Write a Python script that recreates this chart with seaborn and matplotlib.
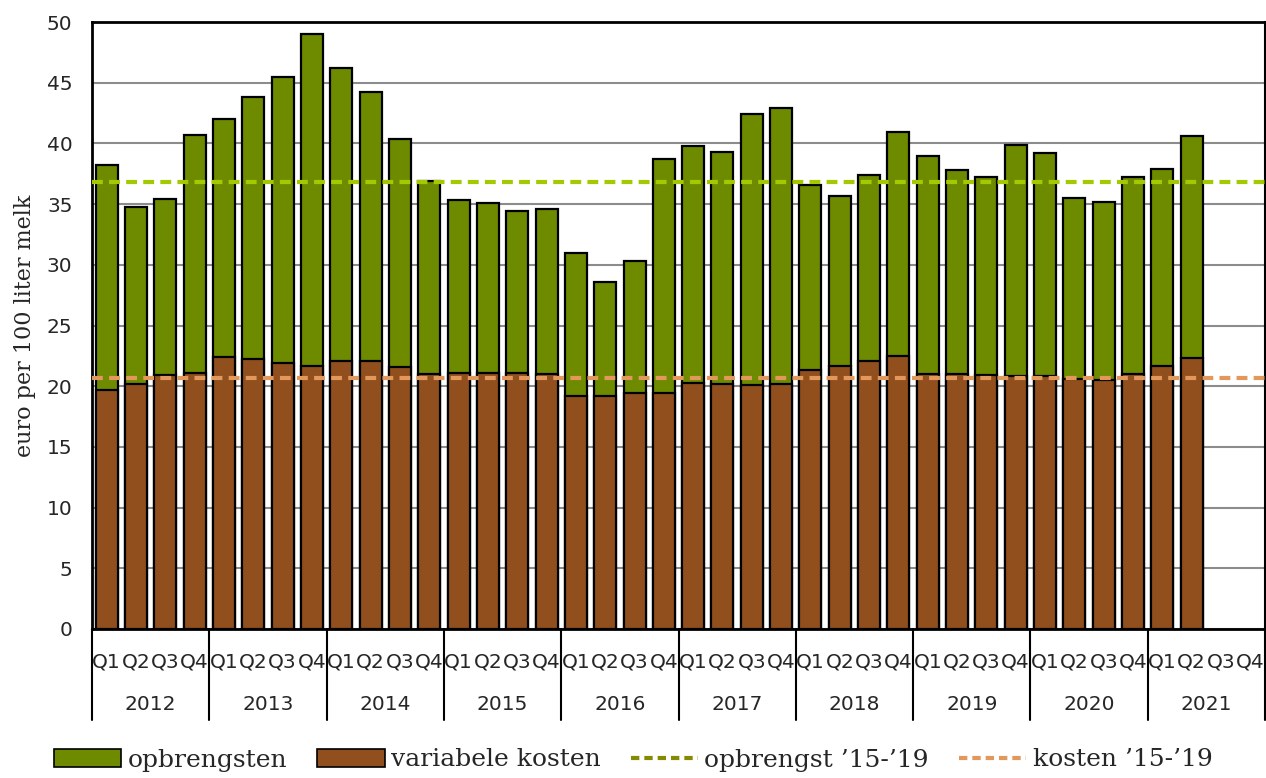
import numpy as np
import pandas as pd
import matplotlib
matplotlib.use("Agg")
import matplotlib.pyplot as plt
import seaborn as sns
from matplotlib.patches import Patch
from matplotlib.lines import Line2D

years = ["2012", "2013", "2014", "2015", "2016", "2017", "2018", "2019", "2020", "2021"]
quarters = ["Q1", "Q2", "Q3", "Q4"]

opbrengsten = [38.2, 34.8, 35.4, 40.7,
               42.0, 43.8, 45.5, 49.0,
               46.2, 44.2, 40.4, 36.9,
               35.3, 35.1, 34.4, 34.6,
               31.0, 28.6, 30.3, 38.7,
               39.8, 39.3, 42.4, 42.9,
               36.6, 35.7, 37.4, 40.9,
               39.0, 37.8, 37.2, 39.9,
               39.2, 35.5, 35.2, 37.2,
               37.9, 40.6]
variabele_kosten = [19.7, 20.2, 20.9, 21.1,
                    22.4, 22.2, 21.9, 21.7,
                    22.1, 22.1, 21.6, 21.0,
                    21.1, 21.1, 21.1, 21.0,
                    19.2, 19.2, 19.4, 19.4,
                    20.3, 20.2, 20.1, 20.2,
                    21.3, 21.7, 22.1, 22.5,
                    21.0, 21.0, 20.9, 20.8,
                    20.8, 20.6, 20.5, 21.0,
                    21.7, 22.3]
gem_opbrengst_15_19 = 36.8
gem_kosten_15_19 = 20.7

periods = [f"{y} {q}" for y in years for q in quarters]
df = pd.DataFrame({
    "periode": periods[:len(opbrengsten)],
    "opbrengsten": opbrengsten,
    "kosten": variabele_kosten,
})

GREEN = "#6e8b00"
BROWN = "#914f1e"
LIME = "#a3c900"
OLIVE = "#858a00"
ORANGE = "#e2975b"

sns.set_theme(style="white")
plt.rcParams["font.family"] = ["DejaVu Sans"]

fig = plt.figure(figsize=(12.66, 7.78), dpi=100)
ax = fig.add_axes([92/1266, 1-629/778, (1265-92)/1266, (629-22)/778])

ax.set_axisbelow(True)
ax.yaxis.grid(True, color="#8c8c8c", linewidth=1.5)

sns.barplot(data=df, x="periode", y="opbrengsten", order=periods, color=GREEN,
            edgecolor="black", linewidth=1.6, width=0.75, saturation=1, ax=ax)
sns.barplot(data=df, x="periode", y="kosten", order=periods, color=BROWN,
            edgecolor="black", linewidth=1.6, width=0.75, saturation=1, ax=ax)

ax.axhline(gem_opbrengst_15_19, color=LIME, linestyle=(0, (2.6, 1.5)), linewidth=3, zorder=5)
ax.axhline(gem_kosten_15_19, color=ORANGE, linestyle=(0, (2.6, 1.5)), linewidth=3, zorder=5)

ax.set_xlim(-0.5, len(periods) - 0.5)
ax.set_ylim(0, 50)
ax.set_yticks(np.arange(0, 51, 5))
ax.tick_params(axis="y", length=0, pad=14, labelsize=14.5)
ax.set_xticks(range(len(periods)))
ax.set_xticklabels([p.split()[1] for p in periods], fontsize=14.5)
ax.tick_params(axis="x", length=0, pad=17)
ax.set_xlabel("")
ax.set_ylabel("euro per 100 liter melk", family="DejaVu Serif", fontsize=16, labelpad=8)

for s in ["top", "left", "right", "bottom"]:
    ax.spines[s].set_visible(True)
    ax.spines[s].set_color("black")
    ax.spines[s].set_linewidth(2)
ax.spines["right"].set_linewidth(1.5)

trans = ax.get_xaxis_transform()
for i, y in enumerate(years):
    ax.text(i * 4 + 1.5, -0.125, y, transform=trans, ha="center", va="center", fontsize=14.5)
for i in range(len(years) + 1):
    ax.add_line(Line2D([i * 4 - 0.5, i * 4 - 0.5], [0, -0.15], transform=trans,
                       color="black", linewidth=1.5, clip_on=False))

handles = [
    Patch(facecolor=GREEN, edgecolor="black", linewidth=1.2),
    Patch(facecolor=BROWN, edgecolor="black", linewidth=1.2),
    Line2D([0], [0], color=OLIVE, linestyle=(0, (2.0, 1.2)), linewidth=3),
    Line2D([0], [0], color=ORANGE, linestyle=(0, (2.0, 1.2)), linewidth=3),
]
labels = ["opbrengsten", "variabele kosten", "opbrengst \u201915-\u201919", "kosten \u201915-\u201919"]
fig.legend(handles, labels, loc="center", bbox_to_anchor=(0.5, 1-760/778), ncol=4,
           frameon=False, prop={"family": "DejaVu Serif", "size": 18},
           handlelength=2.7, handleheight=0.72, handletextpad=0.25, columnspacing=1.2)

fig.savefig("out.png", dpi=100)
